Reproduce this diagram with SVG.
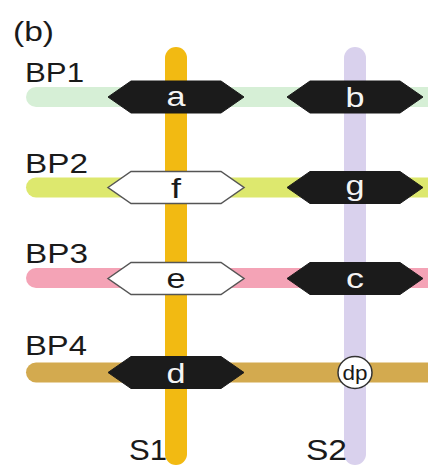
<svg xmlns="http://www.w3.org/2000/svg" width="428" height="467" viewBox="0 0 428 467">
  <defs>
    <style>
      .lbl { font-family: "Liberation Sans", Arial, sans-serif; fill: #1a1a1a; }
      .bar { fill: none; stroke-linecap: round; }
      .hex-dark { fill: #1b1b1b; stroke: #1b1b1b; stroke-width: 1; }
      .hex-light { fill: #ffffff; stroke: #555555; stroke-width: 1.5; }
      .tag { font-family: "Liberation Sans", Arial, sans-serif; font-size: 28px; text-anchor: middle; }
      .tag-w { fill: #f4f4f4; }
      .tag-k { fill: #1a1a1a; }
    </style>
    <!-- hexagonal site marker, centred on (0,0) -->
    <polygon id="hexShape" points="-68,0 -45,-16 45,-16 68,0 45,16 -45,16"/>
  </defs>

  <rect width="428" height="467" fill="#ffffff"/>

  <text class="lbl" x="13" y="41" font-size="27" textLength="41" lengthAdjust="spacingAndGlyphs">(b)</text>

  <!-- horizontal and vertical tracks -->
  <g id="connectors">
    <line class="bar" x1="36" y1="97" x2="440" y2="97" stroke="#d6efd6" stroke-width="20"/>
    <line class="bar" x1="36" y1="187.5" x2="440" y2="187.5" stroke="#dde86e" stroke-width="20"/>
    <line class="bar" x1="36" y1="278" x2="440" y2="278" stroke="#f4a3b6" stroke-width="20"/>
    <line class="bar" x1="36" y1="372.5" x2="440" y2="372.5" stroke="#d3aa4f" stroke-width="20"/>
    <line class="bar" x1="176" y1="58" x2="176" y2="454" stroke="#f2ba12" stroke-width="22"/>
    <line class="bar" x1="355" y1="58" x2="355" y2="454" stroke="#d9d1ed" stroke-width="22"/>
  </g>

  <!-- row labels -->
  <g id="labels">
    <text class="lbl" x="25" y="82" font-size="27" textLength="59" lengthAdjust="spacingAndGlyphs">BP1</text>
    <text class="lbl" x="25" y="173" font-size="27" textLength="63" lengthAdjust="spacingAndGlyphs">BP2</text>
    <text class="lbl" x="25" y="263" font-size="27" textLength="63" lengthAdjust="spacingAndGlyphs">BP3</text>
    <text class="lbl" x="25" y="355" font-size="27" textLength="62" lengthAdjust="spacingAndGlyphs">BP4</text>
    <text class="lbl" x="129" y="460" font-size="30" textLength="38" lengthAdjust="spacingAndGlyphs">S1</text>
    <text class="lbl" x="306" y="460" font-size="30" textLength="41" lengthAdjust="spacingAndGlyphs">S2</text>
  </g>

  <g id="node-a">
    <use href="#hexShape" class="hex-dark" transform="translate(176 97)"/>
    <text class="tag tag-w" x="176" y="106" textLength="19" lengthAdjust="spacingAndGlyphs">a</text>
  </g>
  <g id="node-b">
    <use href="#hexShape" class="hex-dark" transform="translate(355 97)"/>
    <text class="tag tag-w" x="355" y="107" textLength="19" lengthAdjust="spacingAndGlyphs">b</text>
  </g>
  <g id="node-f">
    <use href="#hexShape" class="hex-light" transform="translate(176 187.5)"/>
    <text class="tag tag-k" x="176" y="197.5" textLength="10" lengthAdjust="spacingAndGlyphs">f</text>
  </g>
  <g id="node-g">
    <use href="#hexShape" class="hex-dark" transform="translate(355 187.5)"/>
    <text class="tag tag-w" x="355" y="194.5" textLength="19" lengthAdjust="spacingAndGlyphs">g</text>
  </g>
  <g id="node-e">
    <use href="#hexShape" class="hex-light" transform="translate(176 278.5)"/>
    <text class="tag tag-k" x="176" y="288" textLength="19" lengthAdjust="spacingAndGlyphs">e</text>
  </g>
  <g id="node-c">
    <use href="#hexShape" class="hex-dark" transform="translate(355 278.5)"/>
    <text class="tag tag-w" x="355" y="288" textLength="18" lengthAdjust="spacingAndGlyphs">c</text>
  </g>
  <g id="node-d">
    <use href="#hexShape" class="hex-dark" transform="translate(176 372.5)"/>
    <text class="tag tag-w" x="176" y="382.5" textLength="19" lengthAdjust="spacingAndGlyphs">d</text>
  </g>
  <g id="node-dp">
    <ellipse cx="355" cy="372.5" rx="17" ry="16" fill="#ffffff" stroke="#333333" stroke-width="1.5"/>
    <text class="lbl" x="355" y="380" font-size="21" text-anchor="middle" textLength="25" lengthAdjust="spacingAndGlyphs">dp</text>
  </g>
</svg>
